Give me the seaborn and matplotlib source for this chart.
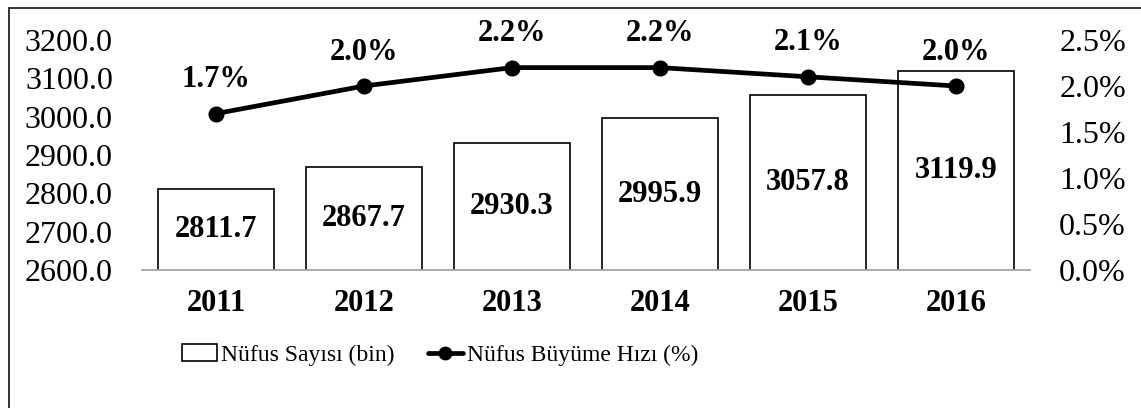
import numpy as np
import pandas as pd
import matplotlib
matplotlib.use("Agg")
import matplotlib.pyplot as plt
import matplotlib.ticker as mticker
from matplotlib.patches import Patch, Rectangle
from matplotlib.lines import Line2D
import seaborn as sns

years = ["2011", "2012", "2013", "2014", "2015", "2016"]
population = [2811.7, 2867.7, 2930.3, 2995.9, 3057.8, 3119.9]
growth = [1.7, 2.0, 2.2, 2.2, 2.1, 2.0]
growth_labels = ["1.7%", "2.0%", "2.2%", "2.2%", "2.1%", "2.0%"]

sns.set_style("white")
plt.rcParams["font.family"] = ["Liberation Serif", "DejaVu Serif"]
plt.rcParams["text.color"] = "black"
plt.rcParams["xtick.color"] = "black"
plt.rcParams["ytick.color"] = "black"

df = pd.DataFrame({"Yil": years, "Nufus": population, "Hiz": growth})

fig = plt.figure(figsize=(11.41, 4.08), dpi=100)
ax = fig.add_axes([142 / 1141, 1 - 270 / 408, (1030 - 142) / 1141, 230 / 408])

sns.barplot(data=df, x="Yil", y="Nufus", ax=ax, color="white",
            edgecolor="black", linewidth=1.2, width=0.78, saturation=1)
ax.set_ylim(2600, 3200)
ax.yaxis.set_major_locator(mticker.MultipleLocator(100))
ax.yaxis.set_major_formatter(mticker.FormatStrFormatter("%.1f"))
ax.set_xlabel("")
ax.set_ylabel("")
for s in ["left", "right", "top"]:
    ax.spines[s].set_visible(False)
ax.spines["bottom"].set_color("#a6a6a6")
ax.spines["bottom"].set_linewidth(1.3)
ax.tick_params(axis="y", length=0, pad=21, labelsize=23)
ax.tick_params(axis="x", length=0, pad=14, labelsize=22)
for t in ax.get_xticklabels():
    t.set_fontweight("bold")

for i, v in enumerate(population):
    ax.text(i, (2600 + v) / 2, f"{v:.1f}", ha="center", va="center",
            fontsize=22, fontweight="bold", color="black")

ax2 = ax.twinx()
sns.pointplot(data=df, x="Yil", y="Hiz", ax=ax2, color="black",
              markers="o", markersize=9, linewidth=3.4)
ax2.set_ylim(0, 2.5)
ax2.yaxis.set_major_locator(mticker.MultipleLocator(0.5))
ax2.yaxis.set_major_formatter(mticker.FormatStrFormatter("%.1f%%"))
ax2.set_ylabel("")
ax2.set_xlabel("")
for s in ["left", "right", "top", "bottom"]:
    ax2.spines[s].set_visible(False)
ax2.tick_params(axis="y", length=0, pad=21, labelsize=23)

for i, (v, lab) in enumerate(zip(growth, growth_labels)):
    ax2.annotate(lab, (i, v), xytext=(0, 14), textcoords="offset points",
                 ha="center", va="bottom", fontsize=22, fontweight="bold",
                 color="black")

handles = [
    Patch(facecolor="white", edgecolor="black", linewidth=1.2,
          label="Nüfus Sayısı (bin)"),
    Line2D([0], [0], color="black", linewidth=3.4, marker="o", markersize=9,
           label="Nüfus Büyüme Hızı (%)"),
]
fig.legend(handles=handles, loc="center", bbox_to_anchor=(440 / 1141, 1 - 355 / 408),
           ncol=2, frameon=False, fontsize=17, handlelength=1.5,
           handletextpad=0.15, columnspacing=1.4)

fig.patches.append(Rectangle((9 / 1141, -0.1), 1.2, 1 - 8 / 408 + 0.1,
                             transform=fig.transFigure, fill=False,
                             edgecolor="#222222", linewidth=1.3))

fig.savefig("out.png", dpi=100)
